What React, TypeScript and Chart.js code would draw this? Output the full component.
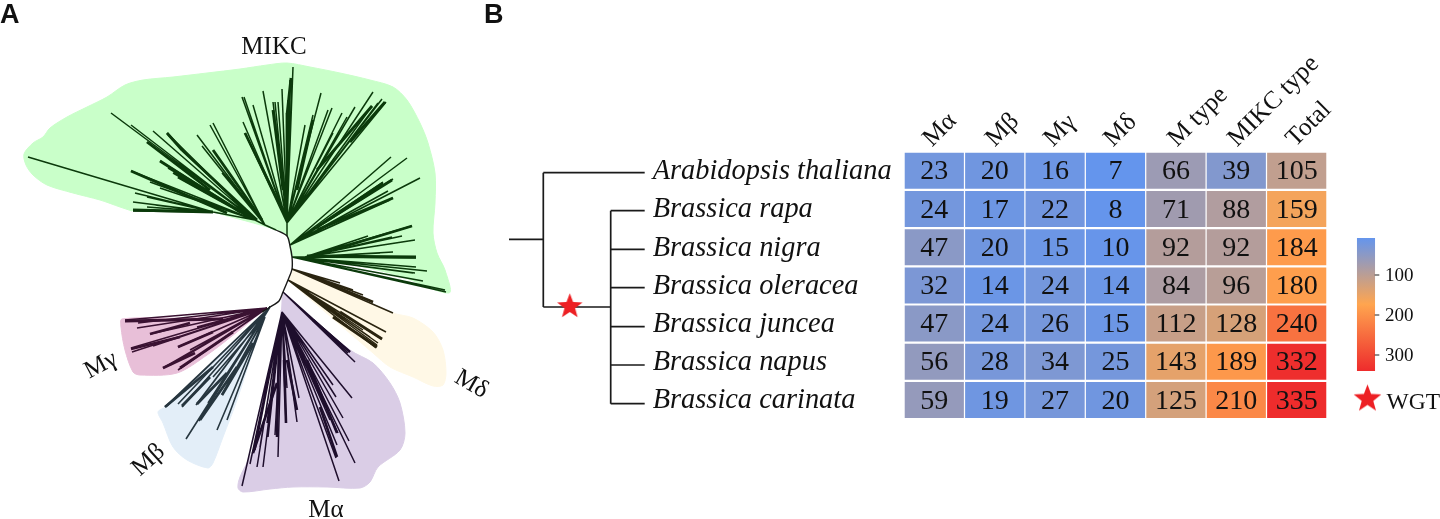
import React, { useEffect, useRef } from "react";
import { Chart, registerables } from "chart.js";
Chart.register(...registerables);

type P = [number, number];

// ---------- Panel A: outlines of the clades ----------
const hullMIKC: P[] = [[132,211],[120,207],[100,200],[73,193],[47,185],[33,175],[26,165],[24,154],[33,143],[43,137],[50,128],[67,117],[87,107],[107,97],[125,85],[143,80],[173,77],[207,73],[240,69],[267,65],[287,63],[310,67],[340,73],[370,80],[393,87],[407,100],[420,123],[428,143],[435,173],[435,203],[433,233],[437,253],[445,270],[449,293],[400,276],[350,264],[305,258],[292,257],[290,246],[287,236],[277,230],[213,212]];
const hullMdelta: P[] = [[292,269],[393,313],[413,318],[433,332],[443,350],[446,373],[443,385],[433,386],[413,377],[390,367],[373,353],[288,280]];
const hullMalpha: P[] = [[282,293],[350,350],[373,363],[390,383],[400,403],[405,433],[400,450],[378,467],[370,482],[360,488],[327,487],[293,487],[270,489],[243,492],[238,488],[240,477],[250,457],[260,433],[270,400],[277,370],[280,333],[281,310]];
const hullMbeta: P[] = [[270,307],[165,407],[158,412],[163,423],[173,447],[187,460],[208,468],[213,463],[223,437],[237,400],[250,360],[260,330]];
const hullMgamma: P[] = [[267,308],[237,315],[180,318],[122,319],[121,327],[125,350],[133,372],[140,375],[177,373],[207,355],[237,332],[260,313]];

// ---------- Panel A: tree branches ----------
const backbone: P[] = [[276,230],[287,236],[290,246],[292,257],[292,269],[288,280],[283,292],[279,301],[270,307],[262,312]];
const mikcUpBase: P = [287,223];
const mikcUpTips: P[] = [[293,67],[292,78],[290,80],[288,100],[287,113],[282,89],[278,102],[275,102],[273,102],[263,91],[253,105],[244,97],[242,97],[243,122],[245,133],[305,125],[321,93],[313,115],[332,108],[328,110],[342,113],[355,107],[347,117],[373,92],[382,99],[386,102],[372,106],[378,103],[333,133]];
const mikcLeftABase: P = [265,225];
const mikcLeftATips: P[] = [[197,135],[210,125],[213,123],[202,146],[222,173]];
const mikcLeftBBase: P = [255,220];
const mikcLeftBTips: P[] = [[111,113],[131,125],[153,131],[167,133],[168,135],[147,142],[182,150],[160,161],[168,168],[173,173],[180,178],[131,171],[150,182],[160,188]];
const mikcLeftCBase: P = [213,212];
const mikcLeftCTips: P[] = [[28,157],[135,193],[147,197],[133,202],[155,205],[133,211],[147,207]];
const mikcRightABase: P = [290,245];
const mikcRightATips: P[] = [[391,157],[407,158],[420,178],[393,179],[383,182],[382,183],[388,191],[393,198],[390,200],[380,187]];
const mikcRightBBase: P = [305,257];
const mikcRightBTips: P[] = [[412,226],[392,237],[402,236],[415,240],[368,236],[416,257],[416,258],[393,252],[380,253]];
const mikcRightCBase: P = [292,257];
const mikcRightCTips: P[] = [[427,271],[416,267],[413,273],[415,273],[423,281],[445,290],[446,292]];
const mikcThick: P[][] = [[[291,78],[287,115]],[[287,113],[287,190]],[[182,150],[257,220]],[[167,133],[182,150]],[[178,177],[250,217]],[[133,210],[213,212]],[[131,171],[227,213]],[[393,198],[317,230]],[[383,183],[317,227]],[[412,226],[333,250]],[[416,257],[307,256]],[[372,106],[317,170]],[[385,102],[350,142]],[[313,120],[297,190]],[[245,133],[280,205]],[[273,110],[283,190]],[[213,150],[262,220]],[[147,142],[210,190]],[[160,161],[240,212]],[[392,180],[320,225]]];

const deltaABase: P = [292,269];
const deltaATips: P[] = [[393,313],[373,302],[363,295],[353,290],[340,283]];
const deltaBBase: P = [288,280];
const deltaBTips: P[] = [[386,332],[382,339],[378,343],[376,348],[370,337],[363,330],[377,345]];
const deltaThick: P[][] = [[[373,302],[320,280]],[[377,347],[333,317]],[[382,339],[340,312]]];
const alphaABase: P = [283,292];
const alphaATips: P[] = [[355,362],[350,352],[348,353],[340,345]];
const alphaBBase: P = [282,312];
const alphaBTips: P[] = [[352,398],[333,385],[336,397],[343,418],[349,441],[355,463],[339,481],[336,458],[337,445],[338,433],[330,420],[325,407],[299,398],[297,422],[286,423],[287,388],[296,410],[278,457],[275,435],[263,467],[257,467],[242,486],[250,464],[253,453],[255,450],[267,423],[273,390],[279,357],[268,437],[260,447]];
const alphaThick: P[][] = [[[253,453],[277,383]],[[277,437],[279,343]],[[286,423],[284,360]],[[297,410],[287,360]],[[337,433],[307,360]],[[337,457],[320,407]],[[350,352],[313,320]]];
const betaABase: P = [270,307];
const betaATips: P[] = [[165,407],[167,406],[178,404],[182,407],[190,398],[196,405],[197,404],[186,439],[199,421],[208,403]];
const betaBBase: P = [265,317];
const betaBTips: P[] = [[217,430],[222,395],[227,420],[228,383],[213,377]];
const betaThick: P[][] = [[[165,407],[213,367]],[[197,404],[227,373]],[[200,420],[237,367]],[[222,395],[253,343]],[[182,406],[210,377]]];
const gammaBase: P = [267,308];
const gammaTips: P[] = [[125,320],[138,323],[137,328],[150,334],[131,348],[132,352],[153,346],[178,347],[163,368],[178,370],[170,365],[190,350],[197,327]];
const gammaThick: P[][] = [[[125,321],[223,319]],[[150,334],[190,323]],[[131,349],[180,337]],[[178,347],[213,332]],[[163,368],[195,353]],[[180,368],[233,332]]];

// ---------- Panel B: species tree ----------
const speciesTreeTrunk: P[][] = [[[509,239.3],[543.3,239.3]],[[543.3,172.7],[543.3,307]],[[543.3,172.7],[644.7,172.7]],[[543.3,307],[610.7,307]],[[610.7,210.7],[610.7,403.7]]];
const speciesTipRows = [210.7,249.3,287.7,326.7,365,403.7];

// ---------- Panel B: heat map ----------
const species = ["Arabidopsis thaliana","Brassica rapa","Brassica nigra","Brassica oleracea","Brassica juncea","Brassica napus","Brassica carinata"];
const columns = ["M\u03b1","M\u03b2","M\u03b3","M\u03b4","M type","MIKC type","Total"];
const mAlpha = [23,24,47,32,47,56,59];
const mBeta = [20,17,20,14,24,28,19];
const mGamma = [16,22,15,24,26,34,27];
const mDelta = [7,8,10,14,15,25,20];
const mType = [66,71,92,84,112,143,125];
const mikcType = [39,88,92,96,128,189,210];
const total = [105,159,184,180,240,332,335];
const heatColumns = [mAlpha,mBeta,mGamma,mDelta,mType,mikcType,total];
const barTicks = [100,200,300];

type P3 = [number,number,number];
const LOW: P3 = [100,149,237], MID: P3 = [255,165,79], HIGH: P3 = [238,44,44];
const VMIN = 7, VMAX = 335;
function heatColor(v: number) {
  const t = (v - VMIN) / (VMAX - VMIN);
  const [a, b, u] = (t < 0.5 ? [LOW, MID, t * 2] : [MID, HIGH, (t - 0.5) * 2]) as [P3, P3, number];
  const c = a.map((x, i) => Math.round(x + (b[i] - x) * u));
  return `rgb(${c[0]},${c[1]},${c[2]})`;
}

const CELL_W = 58.5, CELL_H = 35.3, COL0 = 934.3, COL_STEP = 60.4, ROW0 = 170.8, ROW_STEP = 38.2;
const barY = (v: number) => 275 + (v - 100) * 0.4;
const SERIF = '"Liberation Serif", "Times New Roman", serif';
const SANS = '"Liberation Sans", Arial, sans-serif';

const fan = (base: P, tips: P[]) => tips.flatMap((t) => [{ x: base[0], y: base[1] }, { x: t[0], y: t[1] }, { x: NaN, y: NaN }]);
const segs = (list: P[][]) => list.flatMap((s) => [...s.map((p) => ({ x: p[0], y: p[1] })), { x: NaN, y: NaN }]);
const pts = (list: P[]) => list.map((p) => ({ x: p[0], y: p[1] }));

function hull(points: P[], color: string) {
  return { type: "line", data: pts(points), fill: "shape", backgroundColor: color, borderColor: color, borderWidth: 1, pointRadius: 0, tension: 0.3, order: 10 };
}
function branches(data: any[], color: string, width = 1.5) {
  return { type: "line", data, fill: false, borderColor: color, borderWidth: width, pointRadius: 0, tension: 0, spanGaps: false, order: 5 };
}
function starImage(radius: number) {
  const size = Math.ceil(radius * 2 + 2);
  const c = document.createElement("canvas");
  c.width = c.height = size;
  const g = c.getContext("2d")!;
  g.fillStyle = "#ED2024";
  g.beginPath();
  for (let i = 0; i < 10; i++) {
    const r = i % 2 ? radius * 0.42 : radius;
    const a = -Math.PI / 2 + (i * Math.PI) / 5;
    const px = size / 2 + r * Math.cos(a), py = size / 2 + r * Math.sin(a);
    i ? g.lineTo(px, py) : g.moveTo(px, py);
  }
  g.closePath();
  g.fill();
  return c;
}

const textPlugin = {
  id: "figureText",
  afterDraw(chart: any) {
    const { ctx, scales: { x, y } } = chart;
    const put = (s: string, px: number, py: number, font: string, align: CanvasTextAlign = "left", rot = 0) => {
      ctx.save();
      ctx.translate(x.getPixelForValue(px), y.getPixelForValue(py));
      ctx.rotate((rot * Math.PI) / 180);
      ctx.font = font;
      ctx.textAlign = align;
      ctx.textBaseline = "alphabetic";
      ctx.fillStyle = "#111";
      ctx.fillText(s, 0, 0);
      ctx.restore();
    };
    put("A", 0, 23, `bold 27px ${SANS}`);
    put("B", 484, 23, `bold 27px ${SANS}`);
    put("MIKC", 274, 54, `25px ${SERIF}`, "center");
    put("M\u03b1", 326, 517, `25px ${SERIF}`, "center");
    put("M\u03b2", 153, 465, `25px ${SERIF}`, "center", -42);
    put("M\u03b3", 104, 371, `25px ${SERIF}`, "center", -28);
    put("M\u03b4", 468, 390, `25px ${SERIF}`, "center", 30);
    species.forEach((s, i) => put(s, 652.7, ROW0 + i * ROW_STEP + 8.3, `italic 28.4px ${SERIF}`));
    const colAnchorX = [932,994.7,1053,1113,1177,1237,1295.3];
    columns.forEach((c, i) => put(c, colAnchorX[i], 147.5, `25.5px ${SERIF}`, "left", -45));
    heatColumns.forEach((col, i) => col.forEach((v, r) => put(String(v), COL0 + i * COL_STEP, ROW0 + r * ROW_STEP + 8.5, `28px ${SERIF}`, "center")));
    barTicks.forEach((t) => put(String(t), 1385, barY(t) + 6, `19px ${SERIF}`));
    put("WGT", 1386.5, 409, `23.5px ${SERIF}`);
  },
};

export default function App() {
  const ref = useRef<HTMLCanvasElement>(null);
  useEffect(() => {
    const heatData = heatColumns.flatMap((col, i) => col.map((v, r) => ({ x: COL0 + i * COL_STEP, y: [ROW0 + r * ROW_STEP - CELL_H / 2, ROW0 + r * ROW_STEP + CELL_H / 2], v })));
    const chart = new Chart(ref.current!, {
      type: "line",
      data: {
        datasets: [
          hull(hullMIKC, "#C9FFC9"), hull(hullMdelta, "#FFF8E6"), hull(hullMalpha, "#DACDE6"), hull(hullMbeta, "#E3EEF8"), hull(hullMgamma, "#E8BFD8"),
          { ...branches(pts(backbone), "#1a1a1a", 1.4), tension: 0.3 },
          branches([...fan(mikcUpBase, mikcUpTips), ...fan(mikcLeftABase, mikcLeftATips), ...fan(mikcLeftBBase, mikcLeftBTips), ...fan(mikcLeftCBase, mikcLeftCTips), ...fan(mikcRightABase, mikcRightATips), ...fan(mikcRightBBase, mikcRightBTips), ...fan(mikcRightCBase, mikcRightCTips), ...segs([[[287,236],mikcUpBase],[[276,230],mikcLeftABase],[mikcLeftABase,mikcLeftBBase],[mikcLeftBBase,mikcLeftCBase],[[292,257],mikcRightBBase]])], "#0B3A0B"),
          branches(segs(mikcThick), "#0B3A0B", 2.8),
          branches([...fan(deltaABase, deltaATips), ...fan(deltaBBase, deltaBTips)], "#2A2410"),
          branches(segs(deltaThick), "#2A2410", 2.8),
          branches([...fan(alphaABase, alphaATips), ...fan(alphaBBase, alphaBTips)], "#1E0E2C"),
          branches(segs(alphaThick), "#1E0E2C", 2.6),
          branches([...fan(betaABase, betaATips), ...fan(betaBBase, betaBTips)], "#27363F", 1.6),
          branches(segs(betaThick), "#27363F", 2.8),
          branches(fan(gammaBase, gammaTips), "#3A1232", 1.6),
          branches(segs(gammaThick), "#3A1232", 2.8),
          branches([...segs(speciesTreeTrunk), ...speciesTipRows.flatMap((r) => segs([[[610.7,r],[644.7,r]]]))], "#1a1a1a", 1.7),
          branches(segs(barTicks.map((t) => [[1374.7,barY(t)],[1379.3,barY(t)]] as P[])), "#222", 1.2),
          { type: "bar", data: heatData, backgroundColor: heatData.map((d) => heatColor(d.v)), barThickness: CELL_W, grouped: false, order: 6 },
          { type: "bar", data: [{ x: 1366, y: [barY(VMIN) + 0.5, barY(339)] }], grouped: false, barThickness: 17.4, order: 6,
            backgroundColor: (c: any) => {
              if (!c.chart.chartArea) return heatColor(VMIN);
              const ys = c.chart.scales.y;
              const g = c.chart.ctx.createLinearGradient(0, ys.getPixelForValue(barY(VMIN)), 0, ys.getPixelForValue(barY(339)));
              g.addColorStop(0, heatColor(VMIN)); g.addColorStop(0.5, heatColor((VMIN + VMAX) / 2)); g.addColorStop(1, heatColor(VMAX));
              return g;
            } },
          { type: "line", data: [{ x: 569.8, y: 306.5 }, { x: 1367.5, y: 398.9 }], showLine: false, pointStyle: [starImage(13.3), starImage(14.5)], pointRadius: 13, order: 1 },
        ] as any,
      },
      options: {
        responsive: false,
        animation: false,
        events: [],
        layout: { padding: 0, autoPadding: false },
        plugins: { legend: { display: false }, tooltip: { enabled: false } },
        scales: {
          x: { type: "linear", min: 0, max: 1440, display: false, offset: false },
          y: { type: "linear", min: 0, max: 519, reverse: true, display: false },
        },
      } as any,
      plugins: [textPlugin],
    });
    return () => chart.destroy();
  }, []);
  return (
    <div style={{ position: "fixed", left: 0, top: 0, width: 1440, height: 519, background: "#fff" }}>
      <canvas ref={ref} width={1440} height={519} style={{ display: "block" }} />
    </div>
  );
}
